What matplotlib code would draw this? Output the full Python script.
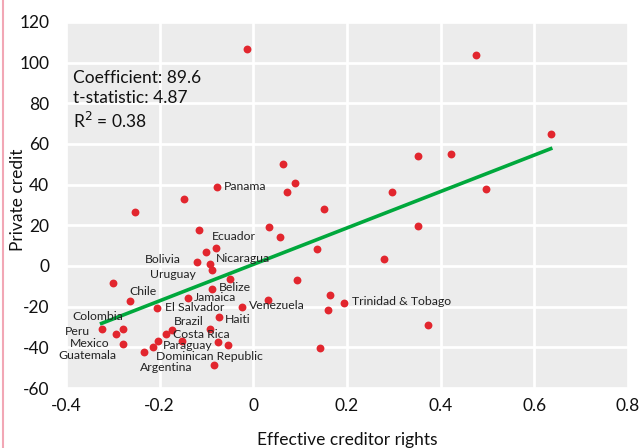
import matplotlib
matplotlib.use('Agg')
import matplotlib.pyplot as plt
import numpy as np
from matplotlib.lines import Line2D

plt.rcParams['font.family'] = ['Lato', 'DejaVu Sans']
plt.rcParams['axes.unicode_minus'] = False

# creditor rights (x) and private credit (y)
rights = [-0.0135, 0.475, 0.635, 0.063, 0.352, 0.421, 0.090, 0.072, -0.077,
          0.296, 0.496, -0.148, -0.253, 0.150, -0.116, 0.034, 0.056, 0.352,
          0.136, -0.080, -0.100, 0.278, -0.121, -0.092, -0.089, 0.093, -0.050,
          -0.299, -0.264, -0.088, -0.139, 0.032, 0.164, 0.194, 0.160, -0.206,
          -0.024, -0.073, -0.092, -0.075, -0.055, -0.083, 0.142, 0.372, -0.324,
          -0.293, -0.278, -0.278, -0.233, -0.215, -0.204, -0.186, -0.174, -0.152]
credit = [106.7, 103.8, 64.9, 50.2, 54.1, 55.1, 41.0, 36.5, 38.8,
          36.5, 37.7, 33.1, 26.5, 28.2, 17.8, 19.3, 14.2, 19.7,
          8.2, 9.0, 6.7, 3.3, 2.1, 1.0, -2.0, -6.9, -6.6,
          -8.5, -17.2, -11.3, -15.9, -16.7, -14.3, -18.1, -21.7, -20.8,
          -20.0, -25.3, -31.2, -37.3, -38.9, -48.7, -40.2, -29.0, -31.2,
          -33.6, -30.9, -38.5, -42.2, -39.7, -36.9, -33.5, -31.5, -36.8]

coef = 89.6
intercept = 0.8
stats_text = 'Coefficient: 89.6\nt-statistic: 4.87\nR$^2$ = 0.38'

x_ticks = [-0.4, -0.2, 0, 0.2, 0.4, 0.6, 0.8]
x_ticklabels = ['-0.4', '-0.2', '0', '0.2', '0.4', '0.6', '0.8']
y_ticks = [-60, -40, -20, 0, 20, 40, 60, 80, 100, 120]

# country labels: name -> (x, y, ha) anchor of the label
labels = {
    'Panama': (-0.0626, 39.3, 'left'), 'Ecuador': (-0.0882, 14.7, 'left'),
    'Bolivia': (-0.1544, 3.4, 'right'), 'Nicaragua': (-0.0797, 3.9, 'left'),
    'Uruguay': (-0.1224, -4.4, 'right'), 'Chile': (-0.2655, -12.3, 'left'),
    'Belize': (-0.0733, -10.6, 'left'), 'Jamaica': (-0.1267, -15.4, 'left'),
    'El Salvador': (-0.1886, -20.6, 'left'), 'Venezuela': (-0.0092, -19.2, 'left'),
    'Haiti': (-0.0605, -26.1, 'left'), 'Brazil': (-0.1694, -27.1, 'left'),
    'Costa Rica': (-0.1715, -33.5, 'left'), 'Paraguay': (-0.1929, -38.9, 'left'),
    'Dominican Republic': (-0.2078, -44.5, 'left'), 'Argentina': (-0.242, -50.0, 'left'),
    'Colombia': (-0.3872, -24.6, 'left'), 'Peru': (-0.4021, -32.0, 'left'),
    'Mexico': (-0.3915, -37.9, 'left'), 'Guatemala': (-0.4171, -43.8, 'left'),
    'Trinidad & Tobago': (0.2107, -17.7, 'left'),
}

fig = plt.figure(figsize=(6.43, 4.48), dpi=100)
ax = fig.add_axes([66/643, 1 - 388/448, 562/643, 366/448])
ax.set_facecolor('#ececec')
for s in ax.spines.values():
    s.set_visible(False)

ax.set_xlim(-0.4, 0.8)
ax.set_ylim(-60, 120)
ax.set_xticks(x_ticks)
ax.set_xticklabels(x_ticklabels)
ax.set_yticks(y_ticks)
ax.tick_params(length=0, labelsize=12.5, colors='#111111')
ax.tick_params(axis='y', pad=12)
ax.tick_params(axis='x', pad=7)
ax.grid(True, color='white', linewidth=2)
ax.set_axisbelow(True)

ax.scatter(rights, credit, s=32, color='#e2262e', zorder=3, linewidths=0)

xs = np.array([min(rights), max(rights)])
ax.plot(xs, intercept + coef * xs, color='#00a83c', linewidth=2.6, zorder=2)

for name, (lx, ly, ha) in labels.items():
    ax.text(lx, ly, name, fontsize=8.8, ha=ha, va='center', color='#222222',
            zorder=4)

ax.text(-0.385, 96.5, stats_text, fontsize=12.5, ha='left', va='top',
        linespacing=1.3, color='#111111')

ax.set_xlabel('Effective creditor rights', fontsize=12.5, color='#111111')
ax.set_ylabel('Private credit', fontsize=12.5, color='#111111')
ax.xaxis.set_label_coords(0.5, -(440 - 388) / 366)
ax.xaxis.label.set_va('center')
ax.yaxis.set_label_coords((18 - 66) / 562, (388 - 200) / 366)
ax.yaxis.label.set_va('center')

fig.add_artist(Line2D([2.5/643, 2.5/643], [0, 1], color='#f2a7b5', linewidth=1.5))

fig.savefig('out.png', dpi=100)
